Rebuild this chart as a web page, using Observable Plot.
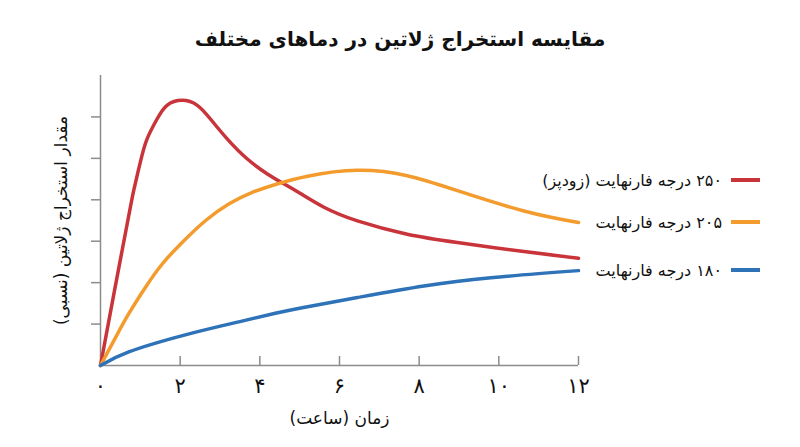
<!DOCTYPE html>
<html>
<head>
<meta charset="utf-8">
<script src="https://cdn.jsdelivr.net/npm/d3@7"></script>
<script src="https://cdn.jsdelivr.net/npm/@observablehq/plot@0.6"></script>
<style>
  body { margin: 0; background: #fff; font-family: "DejaVu Sans", sans-serif; }
  #wrap { position: relative; width: 800px; height: 447px; overflow: hidden; }
  #title { position: absolute; left: 0; top: 24px; width: 800px; text-align: center;
           font-size: 20px; font-weight: bold; line-height: 30px; direction: rtl; color: #111; }
  #chart { position: absolute; left: 0; top: 62px; }
  .leg { position: absolute; left: 0; width: 760px; height: 24px; display: flex; align-items: center;
         justify-content: flex-end; font-size: 16px; color: #111; }
  .leg .lab { direction: rtl; margin-right: 9px; white-space: nowrap; }
  .leg .sw { width: 29px; height: 4px; }
</style>
</head>
<body>
<div id="wrap">
  <div id="title"></div>
  <div id="chart"></div>
  <div id="legend"></div>
</div>
<script>
const titleText = "مقایسه استخراج ژلاتین در دماهای مختلف";
const xLabel = "زمان (ساعت)";
const yLabel = "مقدار استخراج ژلاتین (نسبی)";

const xTicks = [0, 2, 4, 6, 8, 10, 12];
const xTickLabels = ["۰", "۲", "۴", "۶", "۸", "۱۰", "۱۲"];
const yTicks = [1, 2, 3, 4, 5, 6];

const seriesNames = ["۲۵۰ درجه فارنهایت (زودپز)", "۲۰۵ درجه فارنهایت", "۱۸۰ درجه فارنهایت"];
const seriesColors = ["#c9343b", "#f39b2d", "#2e72b8"];

// 250°F (pressure cooker)
const hotX = [0, 0.35, 0.71, 0.84, 1.0, 1.17, 1.42, 1.67, 2.05, 2.43, 2.76, 3.18, 3.68, 4.18, 4.56, 5.02, 5.61, 6.45, 7.7, 8.96, 10.63, 12];
const hotY = [0, 1.8, 3.62, 4.25, 4.91, 5.47, 5.95, 6.28, 6.40, 6.28, 5.95, 5.47, 4.99, 4.63, 4.41, 4.15, 3.82, 3.49, 3.17, 2.97, 2.75, 2.59];
// 205°F
const midX = [0, 0.38, 0.71, 1.13, 1.55, 2.05, 2.64, 3.22, 3.81, 4.39, 5.2, 6.45, 7.7, 8.96, 10.63, 12];
const midY = [0, 0.68, 1.25, 1.89, 2.45, 2.97, 3.50, 3.90, 4.18, 4.37, 4.57, 4.71, 4.58, 4.22, 3.73, 3.45];
// 180°F
const lowX = [0, 0.71, 2.13, 3.5, 4.39, 5.03, 6.45, 8.12, 9.8, 12];
const lowY = [0, 0.33, 0.74, 1.06, 1.26, 1.39, 1.64, 1.92, 2.12, 2.29];

const seriesX = [hotX, midX, lowX];
const seriesY = [hotY, midY, lowY];

const rows = [];
seriesNames.forEach((name, s) => {
  seriesX[s].forEach((x, i) => rows.push({series: name, x, y: seriesY[s][i]}));
});

document.getElementById("title").textContent = titleText;

const axisColor = "#8c8c8c";
const RLM = "\u200F";

const chart = Plot.plot({
  width: 800,
  height: 385,
  marginLeft: 100,
  marginRight: 222,
  marginTop: 13,
  marginBottom: 82,
  style: {fontFamily: "DejaVu Sans, sans-serif", color: "#111", background: "#fff", overflow: "visible"},
  x: {domain: [0, 12], axis: null},
  y: {domain: [0, 7], axis: null},
  color: {domain: seriesNames, range: seriesColors},
  marks: [
    Plot.ruleY([0], {stroke: axisColor, strokeWidth: 1.5}),
    Plot.ruleX([0], {stroke: axisColor, strokeWidth: 1.5}),
    Plot.axisY({ticks: yTicks, tickSize: 9, stroke: axisColor, strokeWidth: 1.5, tickFormat: () => "", label: null}),
    Plot.axisX({ticks: xTicks.slice(1), tickSize: 9, dy: -9, stroke: axisColor, strokeWidth: 1.5, tickFormat: () => "", label: null}),
    Plot.text(xTicks, {x: d => d, frameAnchor: "bottom", dy: 27, text: (d, i) => xTickLabels[i], fontSize: 21, fill: "#111"}),
    Plot.text([RLM + xLabel + RLM], {frameAnchor: "bottom", dy: 58, fontSize: 17, fill: "#111", textAnchor: "middle"}),
    Plot.text([RLM + yLabel + RLM], {frameAnchor: "left", dx: -39, rotate: -90, fontSize: 17, fill: "#111", textAnchor: "middle"}),
    Plot.line(rows, {x: "x", y: "y", z: "series", stroke: "series", strokeWidth: 3.5, strokeLinejoin: "round", curve: "natural"})
  ]
});
document.getElementById("chart").appendChild(chart);

const legendCenters = [180, 222, 270];
const legend = d3.select("#legend");
seriesNames.forEach((name, i) => {
  const row = legend.append("div").attr("class", "leg").style("top", (legendCenters[i] - 12) + "px");
  row.append("span").attr("class", "lab").text(name);
  row.append("span").attr("class", "sw").style("background", seriesColors[i]);
});
</script>
</body>
</html>
